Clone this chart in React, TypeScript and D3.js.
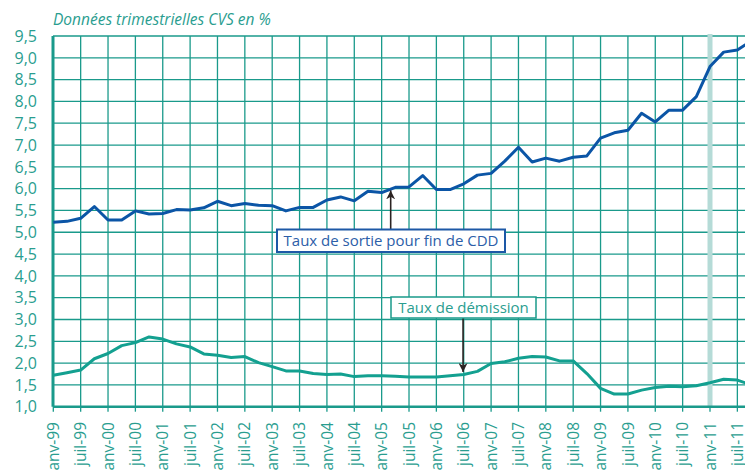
import React from "react";
import * as d3 from "d3";

// x-axis labels, one per half-year
const tickLabels = [
  "janv-99", "juil-99", "janv-00", "juil-00", "janv-01", "juil-01", "janv-02", "juil-02",
  "janv-03", "juil-03", "janv-04", "juil-04", "janv-05", "juil-05", "janv-06", "juil-06",
  "janv-07", "juil-07", "janv-08", "juil-08", "janv-09", "juil-09", "janv-10", "juil-10",
  "janv-11", "juil-11",
];

// quarterly values, T1 1999 -> T4 2011
const tauxSortieCDD = [
  5.23, 5.25, 5.32, 5.59, 5.28, 5.28, 5.49, 5.42,
  5.43, 5.52, 5.51, 5.56, 5.71, 5.61, 5.66, 5.62,
  5.61, 5.49, 5.57, 5.57, 5.74, 5.81, 5.72, 5.94,
  5.91, 6.03, 6.04, 6.30, 5.98, 5.98, 6.11, 6.31,
  6.35, 6.63, 6.95, 6.61, 6.70, 6.63, 6.72, 6.75,
  7.16, 7.28, 7.34, 7.73, 7.53, 7.80, 7.80, 8.11,
  8.80, 9.13, 9.18, 9.38,
];

const tauxDemission = [
  1.72, 1.78, 1.84, 2.10, 2.22, 2.40, 2.47, 2.60,
  2.55, 2.44, 2.37, 2.21, 2.18, 2.13, 2.15, 2.01,
  1.92, 1.82, 1.82, 1.76, 1.74, 1.75, 1.69, 1.71,
  1.71, 1.70, 1.68, 1.68, 1.68, 1.71, 1.74, 1.81,
  1.99, 2.03, 2.11, 2.15, 2.14, 2.05, 2.05, 1.76,
  1.42, 1.29, 1.29, 1.38, 1.44, 1.47, 1.46, 1.48,
  1.55, 1.63, 1.61, 1.50,
];

const yTicks = d3.range(1, 9.51, 0.5);
const highlightQuarter = 48; // janv-11

const width = 745;
const height = 470;
const teal = "#1a9a8b";
const tealText = "#2a9d8f";
const blue = "#0b55a6";
const font = "'Open Sans', 'Noto Sans', sans-serif";

export default function App() {
  const x = d3.scaleLinear().domain([0, 48]).range([53.3, 710]);
  const y = d3.scaleLinear().domain([1, 9.5]).range([406.7, 36]);
  const fmt = (v: number) => d3.format(".1f")(v).replace(".", ",");

  const line = d3
    .line<number>()
    .x((_, i) => x(i))
    .y((d) => y(d));

  const halfYears = d3.range(0, 53, 2);

  return (
    <svg
      width={width}
      height={height}
      style={{ position: "absolute", left: 0, top: 0, background: "#fff" }}
      fontFamily={font}
    >
      <defs>
        <marker id="arrow" viewBox="0 0 10 10" refX="10" refY="5" markerWidth="9" markerHeight="9"
          markerUnits="userSpaceOnUse" orient="auto">
          <path d="M0,0 L10,5 L0,10 L3,5 Z" fill="#2b2322" />
        </marker>
      </defs>

      <text x={53} y={25} fill={tealText} fontSize={15.5} fontStyle="italic">
        Données trimestrielles CVS en %
      </text>

      {/* horizontal grid */}
      {yTicks.map((t) => (
        <line key={"h" + t} x1={53} x2={width} y1={y(t)} y2={y(t)} stroke={teal} strokeWidth={1.3} />
      ))}
      {/* vertical grid */}
      {halfYears.map((q) => (
        <line key={"v" + q} x1={x(q)} x2={x(q)} y1={y(9.5)} y2={y(1)} stroke={teal} strokeWidth={1.3} />
      ))}

      <rect x={x(highlightQuarter) - 2.5} y={y(9.5) - 2} width={5} height={y(1) - y(9.5) + 2}
        fill="#b5dbd7" />

      {/* axes */}
      <line x1={53} x2={width} y1={y(1)} y2={y(1)} stroke={teal} strokeWidth={2.6} />
      <line x1={53} x2={53} y1={y(9.5)} y2={y(1)} stroke={teal} strokeWidth={3} />
      {halfYears.map((q) => (
        <line key={"t" + q} x1={x(q)} x2={x(q)} y1={y(1)} y2={y(1) + 5} stroke={teal} strokeWidth={1.3} />
      ))}

      {yTicks.map((t) => (
        <text key={"yl" + t} x={37} y={y(t)} dy="0.36em" textAnchor="end" fill={tealText} fontSize={16}>
          {fmt(t)}
        </text>
      ))}

      {tickLabels.map((lbl, i) => (
        <text key={lbl} transform={`translate(${x(i * 2)},422) rotate(-90)`} dy="0.36em"
          textAnchor="end" fill={tealText} fontSize={15.5}>
          {lbl}
        </text>
      ))}

      <path d={line(tauxDemission) || ""} fill="none" stroke="#13a090" strokeWidth={3}
        strokeLinejoin="round" />
      <path d={line(tauxSortieCDD) || ""} fill="none" stroke={blue} strokeWidth={3}
        strokeLinejoin="round" />

      {/* annotation: sortie CDD */}
      <line x1={x(24.66)} x2={x(24.66)} y1={229} y2={y(5.96)} stroke="#2b2322" strokeWidth={1.6}
        markerEnd="url(#arrow)" />
      <rect x={277} y={229.5} width={228} height={22.5} fill="#fff" stroke="#1d58a6" strokeWidth={2} />
      <text x={391} y={241} dy="0.36em" textAnchor="middle" fill="#2c5ea8" fontSize={15}>
        Taux de sortie pour fin de CDD
      </text>

      {/* annotation: démission */}
      <line x1={x(29.95)} x2={x(29.95)} y1={318} y2={372} stroke="#2b2322" strokeWidth={1.6}
        markerEnd="url(#arrow)" />
      <rect x={391} y={297} width={145} height={21} fill="#fff" stroke="#1a9a8a" strokeWidth={1.5} />
      <text x={463.5} y={307.5} dy="0.36em" textAnchor="middle" fill={tealText} fontSize={15}>
        Taux de démission
      </text>
    </svg>
  );
}
